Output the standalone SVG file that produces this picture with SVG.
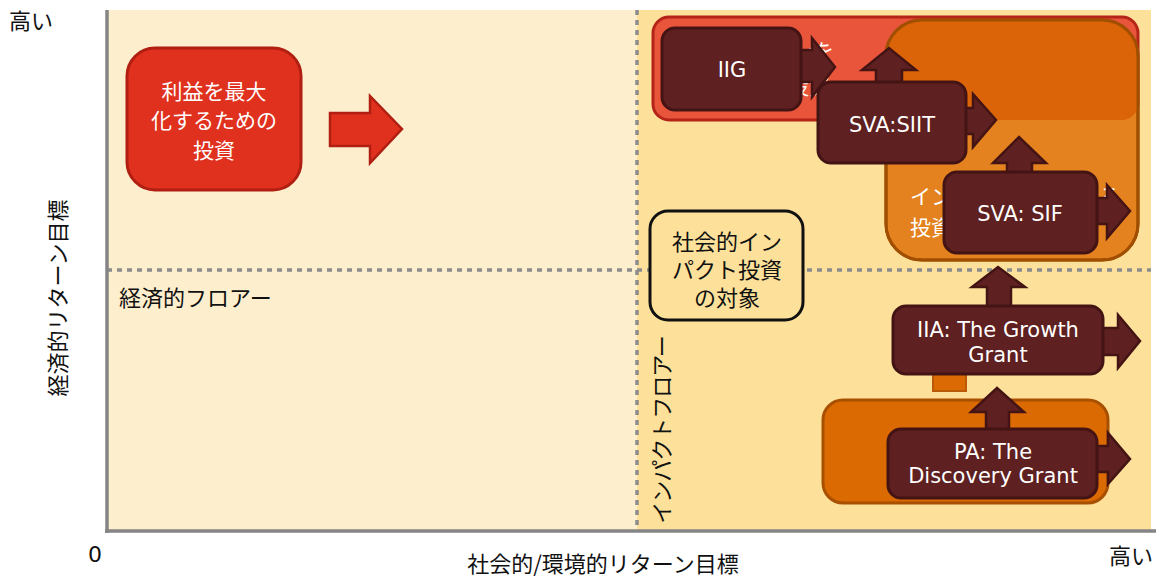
<svg xmlns="http://www.w3.org/2000/svg" width="1158" height="577" viewBox="0 0 1158 577">
<style>
.jp{font-family:"Noto Sans CJK JP","Noto Sans",sans-serif;}
.lt{font-family:"DejaVu Sans","Noto Sans CJK JP",sans-serif;font-size:21px;fill:#ffffff;text-anchor:middle;}
.lbl{font-size:22px;fill:#111111;}
.node{fill:#5E2020;stroke:#441414;stroke-width:3;}
.arr{fill:#5E2020;stroke:#441414;stroke-width:2.5;stroke-linejoin:miter;}
.dash{stroke:#8C8C8C;stroke-width:3.5;stroke-dasharray:5 5;fill:none;}
.axis{stroke:#858585;stroke-width:3.5;fill:none;}
.wt{fill:#ffffff;font-size:21px;}
</style>
<defs>
<clipPath id="redclip"><rect x="653" y="17" width="485" height="103" rx="16"/></clipPath>
</defs>
<rect width="1158" height="577" fill="#ffffff"/>
<g id="background">
<rect x="107" y="10" width="530" height="521" fill="#FDEFCD"/>
<rect x="637" y="10" width="514" height="521" fill="#FDE19A"/>
<line class="dash" x1="107" y1="270" x2="1151" y2="270"/>
<line class="dash" x1="637" y1="10" x2="637" y2="531"/>
<line class="axis" x1="107" y1="10" x2="107" y2="533"/>
<line class="axis" x1="105" y1="531" x2="1156" y2="531"/>
</g>
<g id="labels" class="jp">
<text class="lbl" x="9" y="29">高い</text>
<text class="lbl" x="1109" y="564">高い</text>
<text class="lbl" x="88" y="562" font-size="21" style="font-family:'DejaVu Sans',sans-serif">0</text>
<text class="lbl" x="603" y="572" text-anchor="middle" font-size="23">社会的/環境的リターン目標</text>
<text class="lbl" transform="translate(66,298) rotate(-90)" text-anchor="middle">経済的リターン目標</text>
<text class="lbl" x="119" y="306">経済的フロアー</text>
<text class="lbl" transform="translate(670,430) rotate(-90)" text-anchor="middle" font-size="18" letter-spacing="-1">インパクトフロアー</text>
</g>
<g id="node-profit">
<rect x="127" y="48" width="174" height="142" rx="28" fill="#E0301E" stroke="#B01F12" stroke-width="3"/>
<text class="jp wt" x="214" y="99" text-anchor="middle" font-size="23">利益を最大</text>
<text class="jp wt" x="214" y="128" text-anchor="middle" font-size="22">化するための</text>
<text class="jp wt" x="214" y="158" text-anchor="middle" font-size="23">投資</text>
</g>
<g id="group-finance-first">
<rect x="653" y="17" width="485" height="103" rx="16" fill="#E8553A" stroke="#B52418" stroke-width="3"/>
<text class="jp wt" x="834" y="59" text-anchor="end">リターンを</text>
<text class="jp wt" x="830" y="94" text-anchor="end">重視する投資</text>
</g>
<g id="group-impact-first">
<rect x="886" y="20" width="252" height="240" rx="36" fill="#E3821E" stroke="#A04E00" stroke-width="3"/>
<rect x="886" y="20" width="252" height="240" rx="36" fill="#DA6407" clip-path="url(#redclip)"/>
<rect x="886" y="20" width="252" height="240" rx="36" fill="none" stroke="#A04E00" stroke-width="3"/>
<text class="jp wt" x="910" y="204">インパクトを重視する</text>
<text class="jp wt" x="910" y="235">投資</text>
</g>
<g id="shape-small">
<rect x="933" y="368" width="33" height="23" fill="#DB6A05" stroke="#B85A0A" stroke-width="2"/>
</g>
<g id="group-bottom">
<rect x="823" y="400" width="285" height="103" rx="20" fill="#DB6A03" stroke="#A85000" stroke-width="3"/>
</g>
<g id="node-target">
<rect x="650" y="211" width="153" height="109" rx="18" fill="#FDE19A" stroke="#111111" stroke-width="3"/>
<text class="jp lbl" x="727" y="250" text-anchor="middle">社会的イン</text>
<text class="jp lbl" x="727" y="278" text-anchor="middle">パクト投資</text>
<text class="jp lbl" x="727" y="306" text-anchor="middle">の対象</text>
</g>
<g id="connectors">
<polygon points="330,113 370,113 370,96 402,129 370,163 370,146 330,146" fill="#E0301E" stroke="#B01F12" stroke-width="2.5"/>
<polygon class="arr" points="798,50 812,50 812,38 835,67 812,97 812,82 798,82"/>
<polygon class="arr" points="876,85 876,70 862,70 889,48 916,70 902,70 902,85"/>
<polygon class="arr" points="963,108 973,108 973,94 996,120 973,147 973,134 963,134"/>
<polygon class="arr" points="1007,175 1007,163 993,163 1019,137 1046,163 1032,163 1032,175"/>
<polygon class="arr" points="1094,198 1107,198 1107,185 1130,211 1107,238 1107,224 1094,224"/>
<polygon class="arr" points="987,309 987,287 972,287 998,267 1025,287 1011,287 1011,309"/>
<polygon class="arr" points="1100,328 1118,328 1118,315 1140,341 1118,368 1118,355 1100,355"/>
<polygon class="arr" points="986,432 986,412 971,412 997,388 1024,412 1009,412 1009,432"/>
<polygon class="arr" points="1094,446 1108,446 1108,433 1130,459 1108,484 1108,472 1094,472"/>
</g>
<g id="node-iig">
<rect class="node" x="662" y="28" width="139" height="82" rx="13"/>
<text class="lt" x="732" y="77">IIG</text>
</g>
<g id="node-siit">
<rect class="node" x="818" y="82" width="148" height="81" rx="13"/>
<text class="lt" x="892" y="132" font-size="22">SVA:SIIT</text>
</g>
<g id="node-sif">
<rect class="node" x="944" y="172" width="153" height="81" rx="13"/>
<text class="lt" x="1020" y="221">SVA: SIF</text>
</g>
<g id="node-iia">
<rect class="node" x="893" y="306" width="210" height="68" rx="13"/>
<text class="lt" x="998" y="337" font-size="22">IIA: The Growth</text>
<text class="lt" x="998" y="362" font-size="22">Grant</text>
</g>
<g id="node-pa">
<rect class="node" x="888" y="429" width="209" height="69" rx="13"/>
<text class="lt" x="993" y="459">PA: The</text>
<text class="lt" x="993" y="483">Discovery Grant</text>
</g>
</svg>
